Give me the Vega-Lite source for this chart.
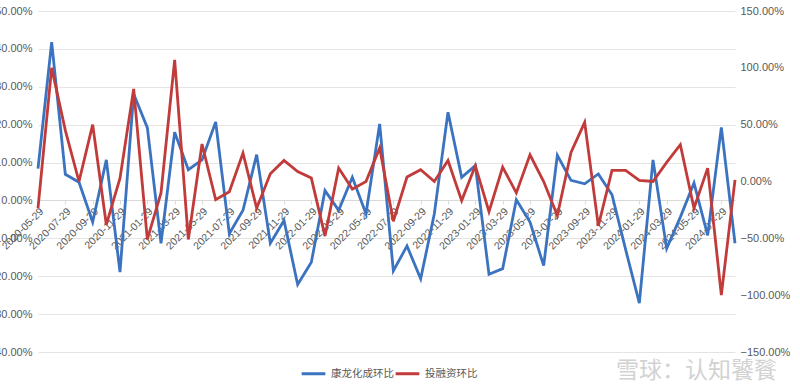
{
  "$schema": "https://vega.github.io/schema/vega-lite/v6.json",
  "width": 697,
  "height": 341,
  "autosize": {"type": "none"},
  "padding": {"left": 38, "top": 11, "right": 65, "bottom": 39},
  "background": "white",
  "config": {"view": {"stroke": null}, "font": "Liberation Sans"},
  "title": {"text": "雪球：认知饕餮", "orient": "bottom", "anchor": "end", "frame": "group", "fontSize": 23, "fontWeight": "normal", "color": "#d2d2d2", "font": "Noto Sans CJK SC", "offset": -20, "dx": 42},
  "data": {"values": [
    {"date": "2020-05-29", "kl": 0.084, "tr": -0.235},
    {"date": "2020-06-29", "kl": 0.418, "tr": 1.00},
    {"date": "2020-07-29", "kl": 0.069, "tr": 0.45},
    {"date": "2020-08-29", "kl": 0.048, "tr": 0.0},
    {"date": "2020-09-29", "kl": -0.057, "tr": 0.50},
    {"date": "2020-10-29", "kl": 0.107, "tr": -0.38},
    {"date": "2020-11-29", "kl": -0.189, "tr": 0.03},
    {"date": "2020-12-29", "kl": 0.281, "tr": 0.815},
    {"date": "2021-01-29", "kl": 0.192, "tr": -0.51},
    {"date": "2021-02-29", "kl": -0.113, "tr": -0.10},
    {"date": "2021-03-29", "kl": 0.18, "tr": 1.07},
    {"date": "2021-04-29", "kl": 0.081, "tr": -0.51},
    {"date": "2021-05-29", "kl": 0.107, "tr": 0.33},
    {"date": "2021-06-29", "kl": 0.207, "tr": -0.16},
    {"date": "2021-07-29", "kl": -0.088, "tr": -0.09},
    {"date": "2021-08-29", "kl": -0.026, "tr": 0.25},
    {"date": "2021-09-29", "kl": 0.121, "tr": -0.235},
    {"date": "2021-10-29", "kl": -0.113, "tr": 0.068},
    {"date": "2021-11-29", "kl": -0.053, "tr": 0.185},
    {"date": "2021-12-29", "kl": -0.222, "tr": 0.088},
    {"date": "2022-01-29", "kl": -0.163, "tr": 0.03},
    {"date": "2022-02-29", "kl": 0.026, "tr": -0.48},
    {"date": "2022-03-29", "kl": -0.026, "tr": 0.118},
    {"date": "2022-04-29", "kl": 0.061, "tr": -0.067},
    {"date": "2022-05-29", "kl": -0.035, "tr": 0.0},
    {"date": "2022-06-29", "kl": 0.202, "tr": 0.295},
    {"date": "2022-07-29", "kl": -0.186, "tr": -0.35},
    {"date": "2022-08-29", "kl": -0.12, "tr": 0.039},
    {"date": "2022-09-29", "kl": -0.207, "tr": 0.103},
    {"date": "2022-10-29", "kl": -0.035, "tr": 0.0},
    {"date": "2022-11-29", "kl": 0.233, "tr": 0.185},
    {"date": "2022-12-29", "kl": 0.061, "tr": -0.168},
    {"date": "2023-01-29", "kl": 0.092, "tr": 0.138},
    {"date": "2023-02-29", "kl": -0.195, "tr": -0.265},
    {"date": "2023-03-29", "kl": -0.18, "tr": 0.127},
    {"date": "2023-04-29", "kl": 0.002, "tr": -0.10},
    {"date": "2023-05-29", "kl": -0.057, "tr": 0.235},
    {"date": "2023-06-29", "kl": -0.172, "tr": 0.0},
    {"date": "2023-07-29", "kl": 0.119, "tr": -0.30},
    {"date": "2023-08-29", "kl": 0.053, "tr": 0.256},
    {"date": "2023-09-29", "kl": 0.044, "tr": 0.52},
    {"date": "2023-10-29", "kl": 0.07, "tr": -0.39},
    {"date": "2023-11-29", "kl": 0.015, "tr": 0.097},
    {"date": "2023-12-29", "kl": -0.13, "tr": 0.097},
    {"date": "2024-01-29", "kl": -0.271, "tr": 0.009},
    {"date": "2024-02-29", "kl": 0.107, "tr": 0.0},
    {"date": "2024-03-29", "kl": -0.127, "tr": 0.168},
    {"date": "2024-04-29", "kl": -0.044, "tr": 0.324},
    {"date": "2024-05-29", "kl": 0.046, "tr": -0.235},
    {"date": "2024-06-29", "kl": -0.092, "tr": 0.118},
    {"date": "2024-07-29", "kl": 0.193, "tr": -1.00},
    {"date": "2024-08-29", "kl": -0.113, "tr": 0.015}
  ]},
  "encoding": {
    "x": {
      "field": "date", "type": "ordinal", "sort": null,
      "scale": {"type": "point", "padding": 0},
      "axis": {
        "title": null, "orient": "bottom", "offset": -152, "labelAngle": -45,
        "values": ["2020-05-29","2020-07-29","2020-09-29","2020-11-29","2021-01-29","2021-03-29","2021-05-29","2021-07-29","2021-09-29","2021-11-29","2022-01-29","2022-03-29","2022-05-29","2022-07-29","2022-09-29","2022-11-29","2023-01-29","2023-03-29","2023-05-29","2023-07-29","2023-09-29","2023-11-29","2024-01-29","2024-03-29","2024-05-29","2024-07-29"],
        "domain": true, "domainColor": "#d9d9d9", "ticks": true, "tickColor": "#d9d9d9", "tickSize": 4,
        "labelFontSize": 10.5, "labelColor": "#595959", "labelPadding": 2, "grid": false
      }
    }
  },
  "layer": [
    {
      "mark": {"type": "line", "strokeWidth": 2.8},
      "encoding": {
        "y": {"field": "kl", "type": "quantitative", "scale": {"domain": [-0.4, 0.5], "nice": false, "zero": false},
          "axis": {"title": null, "orient": "left", "values": [-0.4, -0.3, -0.2, -0.1, 0, 0.1, 0.2, 0.3, 0.4, 0.5], "format": ".2%", "grid": true, "gridColor": "#e4e4e4", "domain": false, "ticks": false, "labelPadding": 6, "labelColor": "#595959", "labelFontSize": 11}},
        "color": {"datum": "康龙化成环比", "type": "nominal",
          "scale": {"domain": ["康龙化成环比", "投融资环比"], "range": ["#3b73c0", "#c13b3a"]},
          "legend": {"title": null, "orient": "none", "legendX": 262, "legendY": 349, "direction": "horizontal", "symbolType": "stroke", "symbolStrokeWidth": 3, "symbolSize": 560, "labelFontSize": 10.5, "labelColor": "#595959", "labelFont": "Noto Sans CJK SC", "columnPadding": -8, "labelOffset": 4}}
      }
    },
    {
      "mark": {"type": "line", "strokeWidth": 2.8},
      "encoding": {
        "y": {"field": "tr", "type": "quantitative", "scale": {"domain": [-1.5, 1.5], "nice": false, "zero": false},
          "axis": {"title": null, "orient": "right", "values": [-1.5, -1, -0.5, 0, 0.5, 1, 1.5], "format": ".2%", "grid": false, "domain": false, "ticks": false, "labelPadding": 5, "labelColor": "#595959", "labelFontSize": 11}},
        "color": {"datum": "投融资环比", "type": "nominal"}
      }
    }
  ],
  "resolve": {"scale": {"y": "independent"}}
}
